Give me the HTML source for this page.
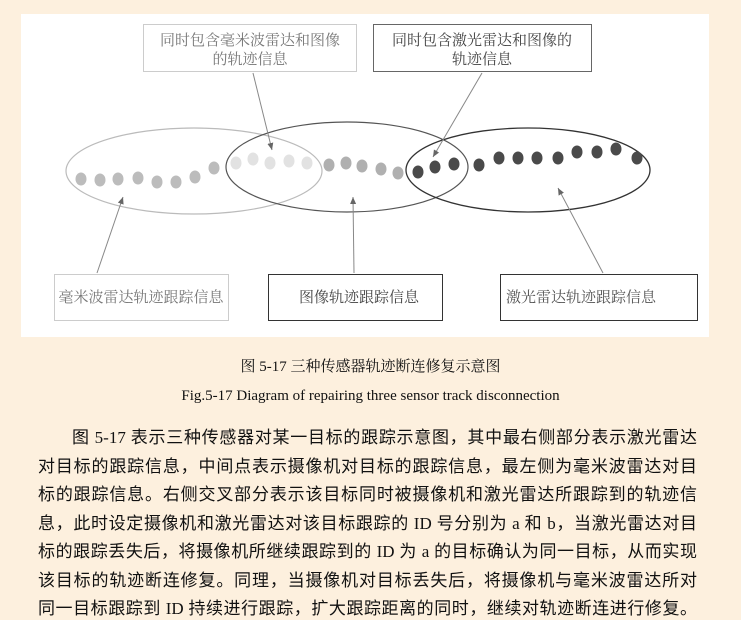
<!DOCTYPE html>
<html><head><meta charset="utf-8"><style>
body{margin:0;width:741px;height:620px;background:#fdf0de;position:relative;overflow:hidden;font-family:"Liberation Serif","Noto Serif CJK SC",serif;}
.w{position:absolute;left:21px;top:14px;width:688px;height:323px;background:#fff;}
.c{position:absolute;left:0;width:741px;text-align:center;color:#111;}
.p{position:absolute;left:38px;width:659px;font-size:17px;color:#111;text-align:justify;text-align-last:justify;white-space:nowrap;font-family:"Liberation Serif","Noto Sans CJK SC",serif;}
</style></head><body>
<div class="w"></div>
<svg width="741" height="340" style="position:absolute;left:0;top:0" font-family="Liberation Serif, Noto Serif CJK SC, serif">
<defs><marker id="a" markerWidth="8" markerHeight="8" refX="7" refY="4" orient="auto"><path d="M0,1 L7,4 L0,7z" fill="#666"/></marker></defs>
<rect x="143.5" y="24.5" width="213" height="47" fill="#fff" stroke="#ccc"/>
<rect x="373.5" y="24.5" width="218" height="47" fill="#fff" stroke="#666"/>
<text x="250" y="45" font-size="15" text-anchor="middle" fill="#777">同时包含毫米波雷达和图像</text>
<text x="250" y="64" font-size="15" text-anchor="middle" fill="#777">的轨迹信息</text>
<text x="482" y="45" font-size="15" text-anchor="middle" fill="#444">同时包含激光雷达和图像的</text>
<text x="482" y="64" font-size="15" text-anchor="middle" fill="#444">轨迹信息</text>
<ellipse cx="194" cy="171" rx="128" ry="43" fill="none" stroke="#bbb" stroke-width="1.2"/>
<ellipse cx="347" cy="167" rx="121" ry="45" fill="none" stroke="#555" stroke-width="1.2"/>
<ellipse cx="528" cy="170" rx="122" ry="42" fill="none" stroke="#333" stroke-width="1.3"/>
<g fill="#bcbcbc">
<ellipse cx="81" cy="179" rx="5.5" ry="6.5"/><ellipse cx="100" cy="180" rx="5.5" ry="6.5"/><ellipse cx="118" cy="179" rx="5.5" ry="6.5"/><ellipse cx="138" cy="178" rx="5.5" ry="6.5"/><ellipse cx="157" cy="182" rx="5.5" ry="6.5"/><ellipse cx="176" cy="182" rx="5.5" ry="6.5"/><ellipse cx="195" cy="177" rx="5.5" ry="6.5"/><ellipse cx="214" cy="168" rx="5.5" ry="6.5"/></g>
<g fill="#e2e2e2"><ellipse cx="236" cy="163" rx="5.5" ry="6.5"/><ellipse cx="253" cy="159" rx="5.5" ry="6.5"/><ellipse cx="270" cy="163" rx="5.5" ry="6.5"/><ellipse cx="289" cy="161" rx="5.5" ry="6.5"/><ellipse cx="307" cy="163" rx="5.5" ry="6.5"/></g>
<g fill="#b0b0b0"><ellipse cx="329" cy="165" rx="5.5" ry="6.5"/><ellipse cx="346" cy="163" rx="5.5" ry="6.5"/><ellipse cx="362" cy="166" rx="5.5" ry="6.5"/><ellipse cx="381" cy="169" rx="5.5" ry="6.5"/><ellipse cx="398" cy="173" rx="5.5" ry="6.5"/></g>
<g fill="#4a4a4a"><ellipse cx="418" cy="172" rx="5.5" ry="6.5"/><ellipse cx="435" cy="167" rx="5.5" ry="6.5"/><ellipse cx="454" cy="164" rx="5.5" ry="6.5"/><ellipse cx="479" cy="165" rx="5.5" ry="6.5"/><ellipse cx="499" cy="158" rx="5.5" ry="6.5"/><ellipse cx="518" cy="158" rx="5.5" ry="6.5"/><ellipse cx="537" cy="158" rx="5.5" ry="6.5"/><ellipse cx="558" cy="158" rx="5.5" ry="6.5"/><ellipse cx="577" cy="152" rx="5.5" ry="6.5"/><ellipse cx="597" cy="152" rx="5.5" ry="6.5"/><ellipse cx="616" cy="149" rx="5.5" ry="6.5"/><ellipse cx="637" cy="158" rx="5.5" ry="6.5"/></g>
<g stroke="#888" stroke-width="1" marker-end="url(#a)">
<line x1="253" y1="73" x2="272" y2="150"/>
<line x1="482" y1="73" x2="433" y2="157"/>
<line x1="97" y1="273" x2="123" y2="197"/>
<line x1="354" y1="273" x2="353" y2="197"/>
<line x1="603" y1="273" x2="558" y2="188"/>
</g>
<rect x="54.5" y="274.5" width="174" height="46" fill="#fff" stroke="#ccc"/>
<rect x="268.5" y="274.5" width="174" height="46" fill="#fff" stroke="#333"/>
<rect x="500.5" y="274.5" width="197" height="46" fill="#fff" stroke="#333"/>
<text x="141" y="302" font-size="15" text-anchor="middle" fill="#777">毫米波雷达轨迹跟踪信息</text>
<text x="359" y="302" font-size="15" text-anchor="middle" fill="#444">图像轨迹跟踪信息</text>
<text x="581" y="302" font-size="15" text-anchor="middle" fill="#555">激光雷达轨迹跟踪信息</text>
</svg>
<div class="c" style="top:355px;font-size:15px;">图 5-17 三种传感器轨迹断连修复示意图</div>
<div class="c" style="top:388px;font-size:15px;">Fig.5-17 Diagram of repairing three sensor track disconnection</div>
<div class="p" style="top:423px;left:72px;width:625px;">图 5-17 表示三种传感器对某一目标的跟踪示意图，其中最右侧部分表示激光雷达</div>
<div class="p" style="top:452px;">对目标的跟踪信息，中间点表示摄像机对目标的跟踪信息，最左侧为毫米波雷达对目</div>
<div class="p" style="top:480px;">标的跟踪信息。右侧交叉部分表示该目标同时被摄像机和激光雷达所跟踪到的轨迹信</div>
<div class="p" style="top:509px;">息，此时设定摄像机和激光雷达对该目标跟踪的 ID 号分别为 a 和 b，当激光雷达对目</div>
<div class="p" style="top:537px;">标的跟踪丢失后，将摄像机所继续跟踪到的 ID 为 a 的目标确认为同一目标，从而实现</div>
<div class="p" style="top:566px;">该目标的轨迹断连修复。同理，当摄像机对目标丢失后，将摄像机与毫米波雷达所对</div>
<div class="p" style="top:594px;">同一目标跟踪到 ID 持续进行跟踪，扩大跟踪距离的同时，继续对轨迹断连进行修复。</div>
</body></html>
